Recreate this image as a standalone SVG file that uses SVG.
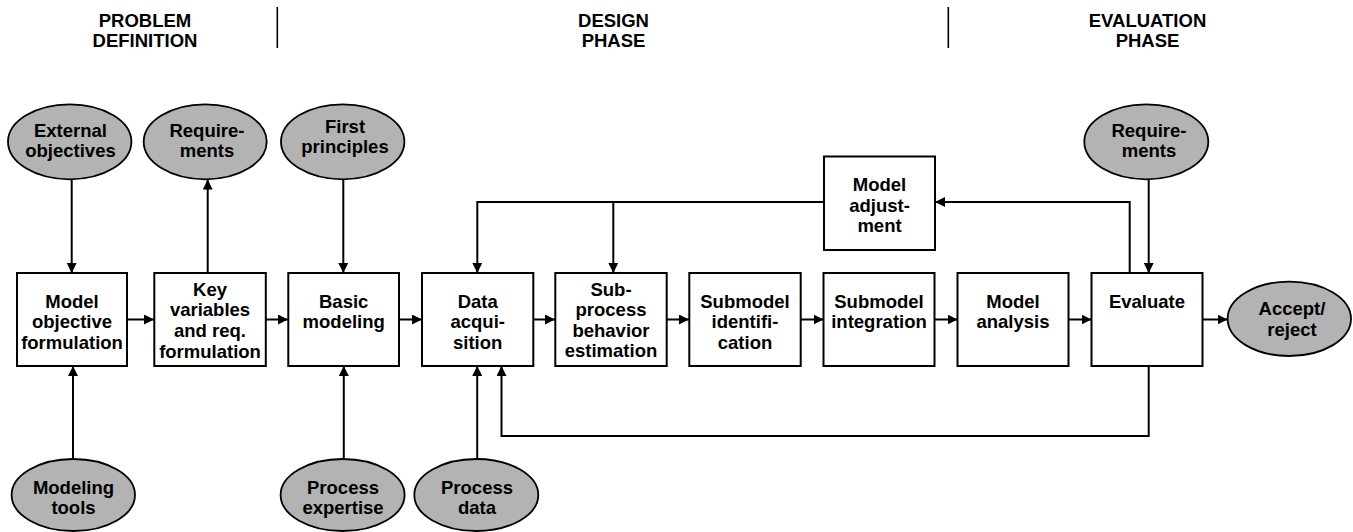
<svg xmlns="http://www.w3.org/2000/svg" width="1353" height="532" viewBox="0 0 1353 532">
<style>
text{font-family:"Liberation Sans",Arial,Helvetica,sans-serif;font-weight:bold;font-size:18.5px;fill:#000;text-anchor:middle}
.box{fill:#fff;stroke:#000;stroke-width:2}
.ell{fill:#b3b3b3;stroke:#000;stroke-width:1.8}
.ln{fill:none;stroke:#000;stroke-width:2}
.div{stroke:#000;stroke-width:1.6}
</style>
<defs>
<marker id="ah" viewBox="0 0 10 10" refX="10" refY="5" markerWidth="10" markerHeight="10" markerUnits="userSpaceOnUse" orient="auto">
<path d="M0,0 L10,5 L0,10 Z" fill="#000"/>
</marker>
</defs>
<rect width="1353" height="532" fill="#fff"/>

<g id="headers">
<text x="145" y="26.7">PROBLEM</text>
<text x="145" y="46.7">DEFINITION</text>
<text x="613.5" y="26.7">DESIGN</text>
<text x="613.5" y="46.7">PHASE</text>
<text x="1147.5" y="26.7">EVALUATION</text>
<text x="1147.5" y="46.7">PHASE</text>
<line class="div" x1="277.3" y1="7" x2="277.3" y2="48"/>
<line class="div" x1="948.3" y1="7" x2="948.3" y2="48"/>
</g>

<g id="connectors">
<path class="ln" d="M71.7,179.5 V273" marker-end="url(#ah)"/>
<path class="ln" d="M207.7,273 V179.5" marker-end="url(#ah)"/>
<path class="ln" d="M343.3,179.5 V273" marker-end="url(#ah)"/>
<path class="ln" d="M1148.7,179.5 V273" marker-end="url(#ah)"/>
<path class="ln" d="M73,459 V366" marker-end="url(#ah)"/>
<path class="ln" d="M343.8,459 V366" marker-end="url(#ah)"/>
<path class="ln" d="M477.2,459 V366" marker-end="url(#ah)"/>
<path class="ln" d="M127,319.5 H154" marker-end="url(#ah)"/>
<path class="ln" d="M266,319.5 H288" marker-end="url(#ah)"/>
<path class="ln" d="M399,319.5 H422" marker-end="url(#ah)"/>
<path class="ln" d="M533,319.5 H555" marker-end="url(#ah)"/>
<path class="ln" d="M666,319.5 H689" marker-end="url(#ah)"/>
<path class="ln" d="M801,319.5 H823.5" marker-end="url(#ah)"/>
<path class="ln" d="M934.5,319.5 H957.5" marker-end="url(#ah)"/>
<path class="ln" d="M1068.5,319.5 H1091.5" marker-end="url(#ah)"/>
<path class="ln" d="M1202.5,319.5 H1227.5" marker-end="url(#ah)"/>
<path class="ln" d="M1129.7,273 V202 H935" marker-end="url(#ah)"/>
<path class="ln" d="M824,202 H477.3 V273" marker-end="url(#ah)"/>
<path class="ln" d="M613.3,202 V273" marker-end="url(#ah)"/>
<path class="ln" d="M1148.7,366 V436 H501.5 V366" marker-end="url(#ah)"/>
</g>

<g id="external-objectives">
<ellipse class="ell" cx="69.7" cy="141.8" rx="61.7" ry="37.5"/>
<text x="70.5" y="137.3">External</text>
<text x="70.5" y="157.3">objectives</text>
</g>
<g id="requirements-1">
<ellipse class="ell" cx="205.2" cy="141.8" rx="61.5" ry="37.5"/>
<text x="207" y="137.3">Require-</text>
<text x="207" y="157.3">ments</text>
</g>
<g id="first-principles">
<ellipse class="ell" cx="342.7" cy="141.8" rx="61.7" ry="37.5"/>
<text x="345" y="132.7">First</text>
<text x="345" y="153.3">principles</text>
</g>
<g id="requirements-2">
<ellipse class="ell" cx="1146.3" cy="141.8" rx="62" ry="37.5"/>
<text x="1149" y="137.3">Require-</text>
<text x="1149" y="157.3">ments</text>
</g>
<g id="accept-reject">
<ellipse class="ell" cx="1289.3" cy="318.8" rx="61.7" ry="37.2"/>
<text x="1292" y="315">Accept/</text>
<text x="1292" y="336">reject</text>
</g>
<g id="modeling-tools">
<ellipse class="ell" cx="73.3" cy="495" rx="61.7" ry="36"/>
<text x="73.5" y="493.5">Modeling</text>
<text x="73.5" y="514">tools</text>
</g>
<g id="process-expertise">
<ellipse class="ell" cx="342.6" cy="495" rx="62" ry="36"/>
<text x="343" y="493.5">Process</text>
<text x="343" y="514">expertise</text>
</g>
<g id="process-data">
<ellipse class="ell" cx="476.3" cy="495" rx="62" ry="36"/>
<text x="477" y="493.5">Process</text>
<text x="477" y="514">data</text>
</g>

<g id="model-objective-formulation">
<rect class="box" x="17" y="273" width="110" height="93"/>
<text x="72" y="307.5">Model</text>
<text x="72" y="328.2">objective</text>
<text x="72" y="348.9">formulation</text>
</g>
<g id="key-variables">
<rect class="box" x="154.3" y="273" width="111.5" height="93"/>
<text x="210" y="295.5">Key</text>
<text x="210" y="316.2">variables</text>
<text x="210" y="336.9">and req.</text>
<text x="210" y="357.6">formulation</text>
</g>
<g id="basic-modeling">
<rect class="box" x="288.3" y="273" width="110.7" height="93"/>
<text x="343.7" y="307.5">Basic</text>
<text x="343.7" y="328.2">modeling</text>
</g>
<g id="data-acquisition">
<rect class="box" x="422" y="273" width="111.3" height="93"/>
<text x="477.7" y="307.5">Data</text>
<text x="477.7" y="328.2">acqui-</text>
<text x="477.7" y="348.9">sition</text>
</g>
<g id="subprocess-behavior">
<rect class="box" x="555.3" y="273" width="111.4" height="93"/>
<text x="611" y="295.8">Sub-</text>
<text x="611" y="316.3">process</text>
<text x="611" y="336.8">behavior</text>
<text x="611" y="357.3">estimation</text>
</g>
<g id="submodel-identification">
<rect class="box" x="689.3" y="273" width="111.4" height="93"/>
<text x="745" y="307.5">Submodel</text>
<text x="745" y="328.2">identifi-</text>
<text x="745" y="348.9">cation</text>
</g>
<g id="submodel-integration">
<rect class="box" x="823.5" y="273" width="111" height="93"/>
<text x="879" y="307.5">Submodel</text>
<text x="879" y="328.2">integration</text>
</g>
<g id="model-analysis">
<rect class="box" x="957.5" y="273" width="111" height="93"/>
<text x="1013" y="307.5">Model</text>
<text x="1013" y="328.2">analysis</text>
</g>
<g id="evaluate">
<rect class="box" x="1091.5" y="273" width="111" height="93"/>
<text x="1147" y="307.5">Evaluate</text>
</g>
<g id="model-adjustment">
<rect class="box" x="824" y="156.5" width="111" height="93.5"/>
<text x="879.5" y="190.8">Model</text>
<text x="879.5" y="211.5">adjust-</text>
<text x="879.5" y="232.2">ment</text>
</g>
</svg>
